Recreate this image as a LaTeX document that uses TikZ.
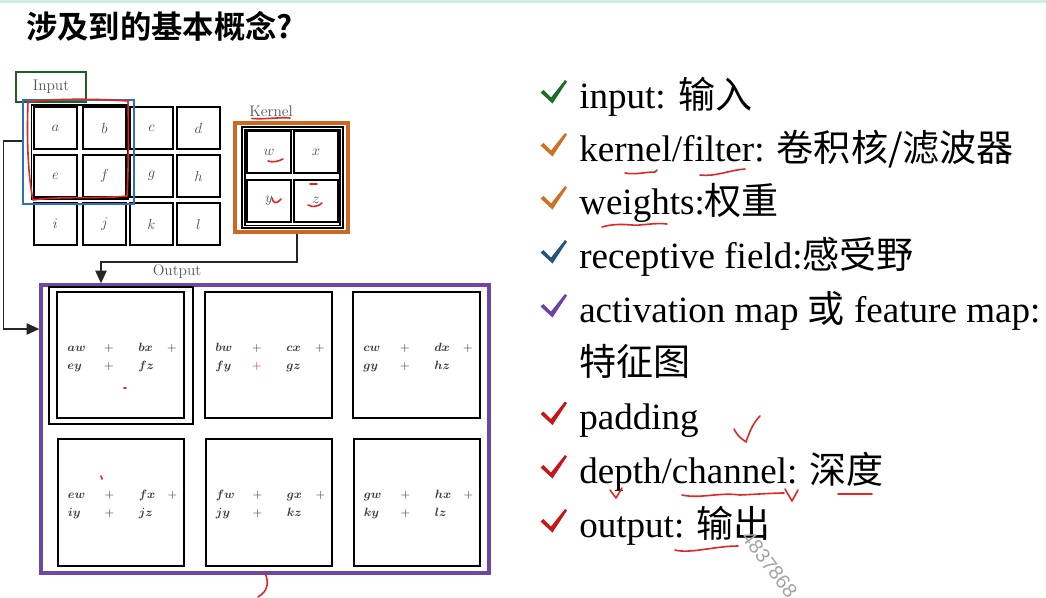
\documentclass[tikz,border=0pt]{standalone}
\usepackage{amsmath}
\usepackage{fontspec}
\setmainfont{Liberation Serif}
\newfontfamily\cjk{Noto Sans CJK SC}
\newfontfamily\cjkb{Noto Sans CJK SC Bold}
\newfontfamily\lmr{Latin Modern Roman}
\newfontfamily\wmfont{Liberation Sans}
\usetikzlibrary{arrows.meta}

\definecolor{topband}{RGB}{208,236,224}
\definecolor{inG}{RGB}{28,96,38}
\definecolor{rfB}{RGB}{44,112,190}
\definecolor{kO}{RGB}{204,104,34}
\definecolor{outP}{RGB}{112,70,165}
\definecolor{labgray}{RGB}{84,84,100}
\definecolor{termgray}{RGB}{58,58,68}
\definecolor{hand}{RGB}{222,40,36}
\definecolor{ckG}{RGB}{30,110,40}
\definecolor{ckO}{RGB}{206,112,40}
\definecolor{ckB}{RGB}{40,84,124}
\definecolor{ckP}{RGB}{112,64,170}
\definecolor{ckR}{RGB}{200,22,22}

% the seven pieces of one output cell sum
\newcommand\outterms[8]{%
  \node[term, anchor=base west] (#1-1) at (#2-53.5,#3-4) {$\boldsymbol{#4}$};
  \node[term, anchor=base]      (#1-2) at (#2-11.5,#3-4) {$+$};
  \node[term, anchor=base west] (#1-3) at (#2+17.5,#3-4) {$\boldsymbol{#5}$};
  \node[term, anchor=base]      (#1-4) at (#2+51.5,#3-4) {$+$};
  \node[term, anchor=base west] (#1-5) at (#2-53.5,#3+14) {$\boldsymbol{#6}$};
  \node[term, anchor=base, #8]  (#1-6) at (#2-11.5,#3+14) {$+$};
  \node[term, anchor=base west] (#1-7) at (#2+17.5,#3+14) {$\boldsymbol{#7}$};
}

% a coloured tick followed by a line of the list
\newcommand\listline[4]{%
  \begin{scope}[shift={(0,#2)}]
    \fill[#3] (540.5,-15.5) -- (543.5,-18) -- (551,-10.5) -- (565,-28) -- (567,-26.5) -- (552.5,-4.5) -- cycle;
  \end{scope}
  \node[listtxt] (#1) at (579,#2) {#4};
}

\begin{document}
\begin{tikzpicture}[x=0.75pt,y=-0.75pt,
  incell/.style={draw, line width=1.3pt, minimum width=32.2pt, minimum height=31.5pt,
    inner sep=0pt, text=labgray, font=\fontsize{10.5}{12}\selectfont},
  kcell/.style={draw, line width=1.5pt, minimum width=33pt, minimum height=31.5pt,
    inner sep=0pt, text=labgray, font=\fontsize{10.5}{12}\selectfont},
  ocell/.style={draw, line width=1.6pt, minimum width=95pt, minimum height=95pt, inner sep=0pt},
  tag/.style={text=labgray, font=\lmr\fontsize{11.5}{13}\selectfont, inner sep=0pt},
  term/.style={text=termgray, font=\fontsize{9.4}{11}\selectfont, inner sep=0pt},
  conn/.style={line width=1.1pt, draw=black!85},
  tip/.style={-{Triangle[length=9.5pt,width=8.5pt]}},
  listtxt/.style={anchor=base west, inner sep=0pt, font=\fontsize{27.8}{30}\selectfont},
  handink/.style={draw=hand, line width=1.2pt, line cap=round, line join=round}]

\useasboundingbox (0,0) rectangle (1046,597);
\fill[white] (0,0) rectangle (1046,597);
\fill[topband] (0,0) rectangle (1046,2.5);

% title
\node[anchor=base west, inner sep=0pt, font=\cjkb\fontsize{23.5}{27}\selectfont] (title) at (26,38.5) {涉及到的基本概念?};

% ---------------- input grid ----------------
\node[draw=inG, line width=2.2pt, minimum width=52.5pt, minimum height=22.5pt, inner sep=0pt,
  text=labgray, font=\lmr\fontsize{11.5}{13}\selectfont] (inlabel) at (51,87) {Input};

\foreach \lab/\cx/\cy in {a/55.5/128, b/104.5/128, c/151.5/128, d/198.5/128,
                          e/55.5/176, f/104.5/176, g/151.5/176, h/198.5/176,
                          i/55.5/224, j/104.5/224, k/151.5/224, l/198.5/224}
  \node[incell] (in-\lab) at (\cx,\cy) {$\lab$};

% frame of the receptive field
\draw[line width=1pt] (31.5,105) rectangle (128,199);
\node[draw=rfB, line width=2.2pt, minimum width=83.25pt, minimum height=78pt, inner sep=0pt] (rf) at (78.5,152) {};

% ---------------- kernel ----------------
\node[tag] (klabel) at (271,111.5) {Kernel};
\node[draw=kO, line width=2.6pt, minimum width=84.75pt, minimum height=81.75pt, inner sep=0pt] (kframe) at (291.5,177.5) {};
\draw[line width=1.2pt] (242,127) rectangle (343,228);
\draw[line width=1pt] (245,129.5) rectangle (340,225.5);
\foreach \lab/\cx/\cy in {w/269/152, x/316/152, y/269/200.5, z/316/200.5}
  \node[kcell] (k-\lab) at (\cx,\cy) {$\lab$};

% ---------------- output ----------------
\node[tag] (outlabel) at (177,271.5) {Output};
\node[draw=outP, line width=2.6pt, minimum width=336pt, minimum height=216pt, inner sep=0pt] (outbox) at (265,429) {};

\node[draw, line width=1.6pt, minimum width=108pt, minimum height=102.75pt, inner sep=0pt] (o1frame) at (121,355.5) {};
\node[ocell] (o1) at (120.5,355) {};
\node[ocell] (o2) at (268.5,355) {};
\node[ocell] (o3) at (416.5,355) {};
\node[ocell] (o4) at (121,502.5) {};
\node[ocell] (o5) at (269,502.5) {};
\node[ocell] (o6) at (417,502.5) {};

\outterms{t1}{120.5}{355}{aw}{bx}{ey}{fz}{}
\outterms{t2}{268.5}{355}{bw}{cx}{fy}{gz}{text=hand}
\outterms{t3}{416.5}{355}{cw}{dx}{gy}{hz}{}
\outterms{t4}{121}{502.5}{ew}{fx}{iy}{jz}{}
\outterms{t5}{269}{502.5}{fw}{gx}{jy}{kz}{}
\outterms{t6}{417}{502.5}{gw}{hx}{ky}{lz}{}

% ---------------- connectors ----------------
\coordinate (kdrop) at (297,262);
\coordinate (kturn) at (101,262);
\draw[conn, tip] (kframe.south -| kdrop) -- (kdrop) -- (kturn) -- (kturn |- outbox.north);

\coordinate (lturn) at (3.5,141);
\coordinate (lturn2) at (3.5,329);
\draw[conn, tip] (rf.west |- lturn) -- (lturn) -- (lturn2) -- (lturn2 -| outbox.west);

% ---------------- list of terms ----------------
\listline{l1}{108}{ckG}{input: {\cjk 输入}}
\listline{l2}{161}{ckO}{kernel/filter: {\cjk 卷积核/滤波器}}
\listline{l3}{214}{ckO}{weights:{\cjk 权重}}
\listline{l4}{268}{ckB}{receptive field:{\cjk 感受野}}
\listline{l5}{322}{ckP}{activation map {\cjk 或} feature map:}
\node[listtxt] (l5b) at (579,375.5) {\cjk 特征图};
\listline{l6}{429.5}{ckR}{padding}
\listline{l7}{483}{ckR}{depth/channel: {\cjk 深度}}
\listline{l8}{537}{ckR}{output: {\cjk 输出}}

% watermark
\node[rotate=-53, anchor=west, inner sep=0pt, text=black!36, font=\wmfont\fontsize{15}{16}\selectfont] (wm) at (746,533) {4837868};

% ---------------- pen marks ----------------
\draw[handink] (28,102) .. controls (60,98) and (100,99) .. (128,101)
  .. controls (129,140) and (128,180) .. (127,196)
  .. controls (100,199) and (60,196) .. (33,200)
  .. controls (27,170) and (27,130) .. (28,102);
\draw[handink] (252,118.5) .. controls (265,119.5) and (280,117) .. (290,118);
\draw[handink] (268,161) .. controls (273,163) and (279,161) .. (283,159);
\draw[handink] (272,198) .. controls (273,204) and (277,204) .. (281,199);
\draw[handink] (310,184) -- (317,184);
\draw[handink] (308,205) .. controls (313,208) and (319,206) .. (322,203);
\draw[handink] (124,388) -- (126,388);
\draw[handink] (101,476) -- (102,479);
\draw[handink] (265,573) .. controls (268,580) and (270,590) .. (258,597);

\draw[handink] (625,173) .. controls (635,175) and (645,172) .. (655,172) -- (657,170);
\draw[handink] (700,175) .. controls (715,177) and (730,170) .. (745,169);
\draw[handink] (602,227) .. controls (620,222) and (630,226) .. (640,225)
  .. controls (650,224) and (660,223) .. (667,224);
\draw[handink] (734,429) .. controls (738,436) .. (746,442) .. controls (750,430) and (754,422) .. (760,416);
\draw[handink] (610,490) -- (616,498) -- (622,488);
\draw[handink] (682,495) .. controls (700,499) and (720,492) .. (740,495)
  .. controls (760,494) and (775,493) .. (784,493);
\draw[handink] (785,489) -- (792,501) -- (798,490);
\draw[handink] (838,494) -- (872,494);
\draw[handink] (675,550) .. controls (690,554) and (715,546) .. (738,546);
\end{tikzpicture}
\end{document}
